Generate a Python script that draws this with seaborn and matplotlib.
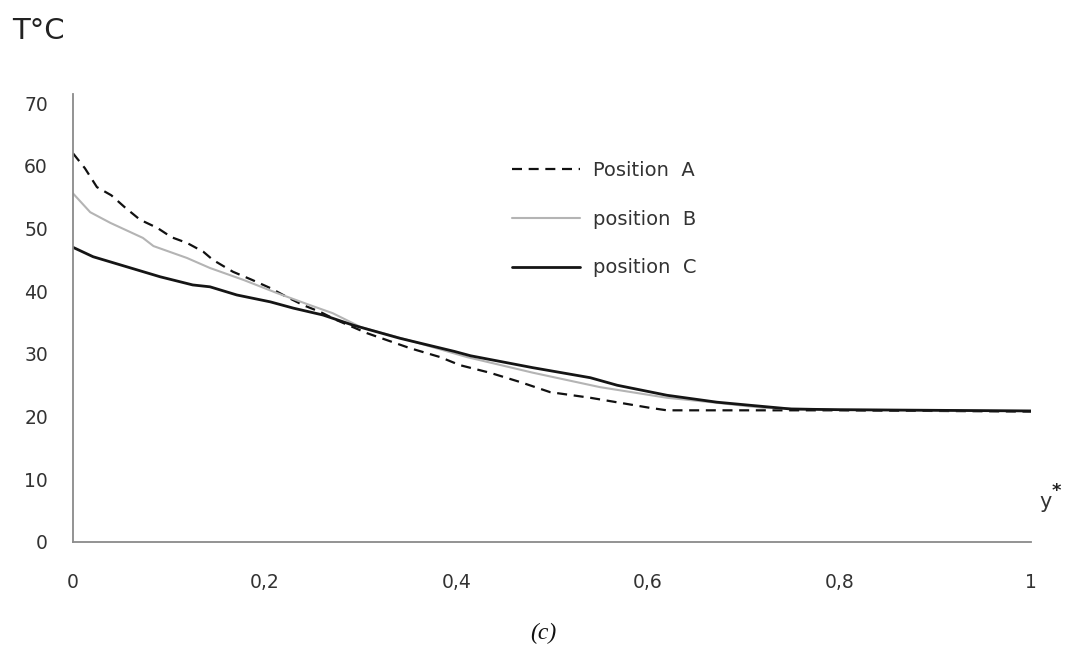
import matplotlib
matplotlib.use("Agg")
import matplotlib.pyplot as plt
import seaborn as sns
import pandas as pd
from matplotlib.lines import Line2D
from matplotlib.ticker import FuncFormatter

# Temperature profiles along the normalised coordinate y*
x_a = [0, 0.0125, 0.025, 0.04, 0.054, 0.07, 0.088, 0.103, 0.119, 0.136, 0.146,
       0.167, 0.187, 0.206, 0.223, 0.24, 0.258, 0.275, 0.307, 0.352, 0.383,
       0.404, 0.435, 0.467, 0.498, 0.54, 0.571, 0.602, 0.62, 0.7, 0.8, 0.9, 1.0]
t_a = [62.0, 59.6, 56.6, 55.3, 53.4, 51.4, 50.1, 48.6, 47.7, 46.3, 45.0,
       43.1, 41.8, 40.5, 39.1, 37.8, 36.7, 35.4, 33.3, 30.9, 29.5,
       28.2, 27.0, 25.5, 23.9, 23.0, 22.2, 21.4, 21.0, 21.0, 21.0, 20.9, 20.8]

x_b = [0, 0.018, 0.039, 0.073, 0.084, 0.119, 0.143, 0.178, 0.213, 0.247,
       0.271, 0.3, 0.35, 0.411, 0.48, 0.55, 0.62, 0.672, 0.72, 0.8, 0.9, 1.0]
t_b = [55.6, 52.6, 50.9, 48.5, 47.2, 45.3, 43.7, 41.8, 39.7, 37.8,
       36.5, 34.3, 32.2, 29.5, 27.0, 24.7, 23.0, 22.2, 21.4, 21.1, 21.0, 20.9]

x_c = [0, 0.021, 0.056, 0.091, 0.125, 0.143, 0.171, 0.206, 0.23, 0.261,
       0.292, 0.341, 0.398, 0.415, 0.48, 0.54, 0.568, 0.62, 0.672, 0.707,
       0.75, 0.8, 0.9, 1.0]
t_c = [47.0, 45.5, 43.9, 42.3, 41.0, 40.7, 39.4, 38.3, 37.3, 36.2,
       34.6, 32.5, 30.4, 29.7, 27.8, 26.2, 25.0, 23.4, 22.3, 21.8,
       21.2, 21.1, 21.0, 20.9]

labels = ["Position  A", "position  B", "position  C"]
x_ticks = [0, 0.2, 0.4, 0.6, 0.8, 1]
y_ticks = [0, 10, 20, 30, 40, 50, 60, 70]

sns.set_theme(style="white")
plt.rcParams["font.family"] = ["DejaVu Sans"]

fig = plt.figure(figsize=(10.67, 6.5), dpi=100)
ax = fig.add_axes([0.0684, 0.1662, 0.8979, 0.6896])

styles = [
    dict(color="#111111", linestyle=(0, (4.5, 3)), linewidth=1.6),
    dict(color="#b4b4b4", linestyle="-", linewidth=1.5),
    dict(color="#151515", linestyle="-", linewidth=2.0),
]
series = [(x_a, t_a), (x_b, t_b), (x_c, t_c)]
for (xs, ts), st in zip(series, styles):
    df = pd.DataFrame({"y": xs, "T": ts})
    sns.lineplot(data=df, x="y", y="T", ax=ax, **st)

ax.set_xlim(0, 1)
ax.set_ylim(0, 71.5)
ax.set_xticks(x_ticks)
ax.set_yticks(y_ticks)
ax.xaxis.set_major_formatter(FuncFormatter(lambda v, p: f"{v:g}".replace(".", ",")))
ax.set_xlabel("")
ax.set_ylabel("")
ax.tick_params(axis="x", length=0, pad=22, labelsize=13.5, labelcolor="#333333")
ax.tick_params(axis="y", length=0, pad=18, labelsize=13.5, labelcolor="#333333")

for side in ("top", "right"):
    ax.spines[side].set_visible(False)
for side in ("left", "bottom"):
    ax.spines[side].set_color("#8a8a8a")
    ax.spines[side].set_linewidth(1.3)

handles = [Line2D([0], [0], **st) for st in styles]
leg = ax.legend(handles, labels, loc="upper left", bbox_to_anchor=(0.458, 0.85),
                frameon=False, handlelength=3.5, handletextpad=0.7,
                labelspacing=1.53, fontsize=14, borderaxespad=0, borderpad=0)
for t in leg.get_texts():
    t.set_color("#333333")

fig.text(0.011, 0.953, "T°C", fontsize=21, color="#222222", va="center", ha="left")
fig.text(0.974, 0.228, "y", fontsize=15, color="#333333", va="center", ha="left")
fig.text(0.9855, 0.245, "*", fontsize=13, fontweight="bold", color="#222222",
         va="center", ha="left")
fig.text(0.509, 0.025, "(c)", fontsize=17, style="italic", family="Liberation Serif",
         color="#111111", ha="center", va="center")

fig.savefig("out.png", dpi=100, facecolor="white")
